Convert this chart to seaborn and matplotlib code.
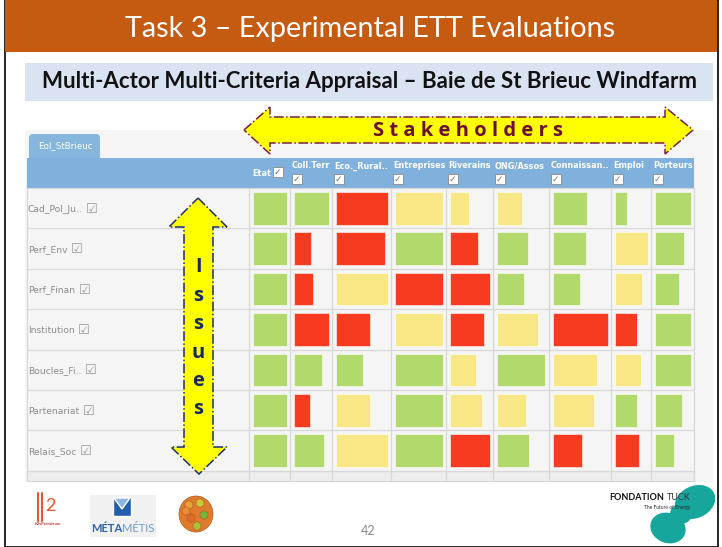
import numpy as np
import pandas as pd
import matplotlib.pyplot as plt
import seaborn as sns
from matplotlib.patches import Rectangle, Polygon, FancyBboxPatch, Ellipse, RegularPolygon

sns.set_theme(style="white")
plt.rcParams['font.family'] = ['Lato', 'DejaVu Sans']

# ---- data ----
stakeholders = ["Etat", "Coll.Terr", "Eco._Rural..", "Entreprises", "Riverains",
                "ONG/Assos", "Connaissan..", "Emploi", "Porteurs"]
issues = ["Cad_Pol_Ju..", "Perf_Env", "Perf_Finan", "Institution",
          "Boucles_Fi..", "Partenariat", "Relais_Soc"]
# share of the cell taken by each bar, one list per issue
bar_share = [
    [1.00, 1.00, 1.00, 1.00, 0.49, 0.52, 0.63, 0.39, 1.00],
    [1.00, 0.50, 0.96, 1.00, 0.72, 0.65, 0.61, 1.00, 0.83],
    [1.00, 0.56, 1.00, 1.00, 1.00, 0.56, 0.50, 0.82, 0.67],
    [1.00, 1.00, 0.67, 1.00, 0.85, 0.85, 1.00, 0.67, 1.00],
    [1.00, 0.82, 0.52, 1.00, 0.67, 0.98, 0.80, 0.79, 1.00],
    [1.00, 0.47, 0.67, 1.00, 0.80, 0.60, 0.76, 0.67, 0.75],
    [1.00, 0.88, 1.00, 1.00, 1.00, 0.67, 0.54, 0.73, 0.53],
]
# G = favourable, Y = mixed, R = unfavourable
verdict = ["GGRYYYGGG", "GRRGRGGYG", "GRYRRGGYG", "GRRYRYRRG",
           "GGGGYGYYG", "GRYGYYYGG", "GGYGRGRRG"]

palette = {"G": "#b2d96b", "Y": "#f8e784", "R": "#f63b20"}

# ---- table layout (pixels) ----
col_w = np.array([41, 42, 59, 55, 47, 56, 62, 40, 43])
col_left = 249 + np.concatenate([[0], np.cumsum(col_w)[:-1]])
table_right = 249 + col_w.sum()
row_top0, row_h = 188, 40.4
row_top = row_top0 + row_h * np.arange(len(issues))

fig = plt.figure(figsize=(7.22, 5.47), dpi=100)
ax = fig.add_axes([0, 0, 1, 1])
ax.set_xlim(0, 722)
ax.set_ylim(547, 0)
ax.axis("off")

# slide frame and title band
ax.add_patch(Rectangle((4.5, 0), 713, 546.5, facecolor="white", edgecolor="black", lw=1.2, zorder=0))
ax.add_patch(Rectangle((5, 0), 712, 52, facecolor="#c55a11", edgecolor="none", zorder=1))
ax.text(370, 29, "Task 3 – Experimental ETT Evaluations", color="white", fontsize=20.7,
        ha="center", va="center", zorder=2)
ax.add_patch(Rectangle((25, 63), 688, 38, facecolor="#dae3f2", edgecolor="none", zorder=1))
ax.text(369, 82, "Multi-Actor Multi-Criteria Appraisal – Baie de St Brieuc Windfarm",
        color="#111111", fontsize=16, fontweight="bold", ha="center", va="center", zorder=2)

# panel, tab and header band
ax.add_patch(Rectangle((25, 130), 688, 352, facecolor="#f5f5f5", edgecolor="none", zorder=1))
ax.add_patch(FancyBboxPatch((29, 134), 71, 30, boxstyle="round,pad=0,rounding_size=4",
                            facecolor="#85b6de", edgecolor="none", zorder=2))
ax.text(38, 146, "Eol_StBrieuc", color="white", fontsize=6.3, family="DejaVu Sans",
        ha="left", va="center", zorder=3)
ax.add_patch(Rectangle((27, 158), table_right - 27, 30, facecolor="#7fb1dc", edgecolor="none", zorder=2))

# footer strip of the grid
ax.add_patch(Rectangle((27, 471), table_right - 27, 10, facecolor="#ededed", edgecolor="#d6d6d6",
                       lw=0.8, zorder=2))

# grid lines
grid_c = "#d8d8d8"
for y in np.append(row_top, row_top0 + row_h * len(issues)):
    ax.plot([27, table_right], [y, y], color=grid_c, lw=0.9, zorder=2)
for x in np.append(np.append(27, col_left), table_right):
    ax.plot([x, x], [188, 481], color=grid_c, lw=0.9, zorder=2)

# header labels with checkboxes
for i, name in enumerate(stakeholders):
    if i == 0:
        ax.text(col_left[i] + 3, 173, name, color="white", fontsize=5.9, fontweight="bold",
                family="DejaVu Sans", ha="left", va="center", zorder=4)
        bx, by = col_left[i] + 28.5, 172
    else:
        ax.text(col_left[i] + 2, 166, name, color="white", fontsize=5.9, fontweight="bold",
                family="DejaVu Sans", ha="left", va="center", zorder=4)
        bx, by = col_left[i] + 6.5, 178.5
    ax.add_patch(Rectangle((bx - 5, by - 5), 10, 10, facecolor="white", edgecolor="#8a8a8a",
                           lw=0.6, zorder=4))
    ax.text(bx, by + 0.5, "✓", color="#7a7a7a", fontsize=6.5, family="DejaVu Sans",
            ha="center", va="center", zorder=5)

# row labels, checkbox right after the name
for j, name in enumerate(issues):
    yc = row_top[j] + row_h / 2
    t = ax.text(28, yc + 1, name, color="#8c8c8c", fontsize=6.6, family="DejaVu Sans",
                ha="left", va="center", zorder=4)
    ax.annotate("☑", xy=(1, 0.5), xycoords=t, xytext=(2.5, 0), textcoords="offset points",
                color="#9a9a9a", fontsize=9.5, family="DejaVu Sans", ha="left", va="center",
                zorder=4)

# the appraisal bars
cells = []
for j in range(len(issues)):
    for i in range(len(stakeholders)):
        cells.append({"issue": j, "actor": i, "share": bar_share[j][i], "verdict": verdict[j][i]})
df = pd.DataFrame(cells)
bar_x = col_left[df["actor"]] + 3.5
bar_w = df["share"] * (col_w[df["actor"]] - 7)
bar_y = row_top[df["issue"]] + 4
ax.bar(bar_x, 32.5, width=bar_w, bottom=bar_y, align="edge",
       color=df["verdict"].map(palette), edgecolor="#ffffff", linewidth=0.4, zorder=3)

# stakeholders arrow
h_arrow = [(244, 130), (270, 107), (270, 117), (665, 117), (665, 107), (693, 130),
           (665, 154), (665, 143), (270, 143), (270, 154)]
ax.add_patch(Polygon(h_arrow, closed=True, facecolor="#ffff00", edgecolor="#7a1f45",
                     lw=1.1, linestyle="-.", zorder=6))
ax.text(468, 131, "S t a k e h o l d e r s", color="#6b1032", fontsize=14.5, fontweight="bold",
        family="Open Sans", ha="center", va="center", zorder=7)

# issues arrow
v_arrow = [(198, 198), (227, 227), (213, 227), (213, 447), (227, 447), (199, 474),
           (171, 447), (184, 447), (184, 227), (169, 227)]
ax.add_patch(Polygon(v_arrow, closed=True, facecolor="#ffff00", edgecolor="#1c2f6b",
                     lw=1.1, linestyle="-.", zorder=6))
ax.text(198.5, 338.5, "I\ns\ns\nu\ne\ns", color="#1b2a5e", fontsize=14.5, fontweight="bold",
        family="Open Sans", ha="center", va="center", linespacing=1.56, zorder=7)

# footer logos (simplified)
ax.plot([38, 38], [493, 521], color="#e2572b", lw=1.5)
ax.plot([42, 42], [493, 521], color="#e2572b", lw=1.5)
ax.text(50, 506, "2", color="#e2572b", fontsize=13, ha="center", va="center")
ax.text(48, 524, "K2sPetroleum", color="#c0392b", fontsize=3, fontweight="bold", ha="center", va="center")

ax.add_patch(Rectangle((90, 495), 66, 42, facecolor="#f1f1f1", edgecolor="none"))
ax.add_patch(Polygon([(113, 497), (131, 497), (131, 516), (113, 516)], facecolor="#1f5fae"))
ax.add_patch(Polygon([(114, 498), (130, 498), (122, 509)], facecolor="#8fb6e3"))
ax.text(122, 528, "MÉTA", color="#2a63ad", fontsize=8, fontweight="bold", ha="right", va="center")
ax.text(122, 528, "MÉTIS", color="#6e9bd1", fontsize=8, ha="left", va="center")

ax.add_patch(Ellipse((196, 514), 34, 36, facecolor="#de7b2c", edgecolor="#b8561c", lw=0.5))
for (hx, hy, hc) in [(189, 505, "#e9a23b"), (200, 503, "#c9c93a"), (204, 515, "#71b43a"),
                     (191, 518, "#e06a2a"), (197, 526, "#a8c23a"), (186, 511, "#ea8a36")]:
    ax.add_patch(RegularPolygon((hx, hy), 6, radius=4.5, facecolor=hc, edgecolor="#b35a20", lw=0.4))

ax.text(368, 531, "42", color="#8a8a8a", fontsize=9, ha="center", va="center")

ax.add_patch(Rectangle((605, 482), 112, 64, facecolor="white", edgecolor="none"))
ax.add_patch(Ellipse((695, 502), 42, 32, angle=-25, facecolor="#16a69c", edgecolor="none"))
ax.add_patch(Ellipse((668, 528), 36, 30, angle=20, facecolor="#16a69c", edgecolor="none"))
ax.add_patch(Ellipse((681, 514), 22, 20, facecolor="#16a69c", edgecolor="none"))
ft = ax.text(609, 497, "FONDATION", color="#111111", fontsize=6.5, fontweight="bold",
             ha="left", va="center", zorder=3)
ax.annotate("TUCK", xy=(1, 0.5), xycoords=ft, xytext=(2, 0), textcoords="offset points",
            color="#333333", fontsize=6.5, ha="left", va="center", zorder=3)
ax.text(690, 507, "The Future of Energy", color="#222222", fontsize=3.5, ha="right", va="center",
        zorder=3)

fig.savefig("out.png", dpi=100)
